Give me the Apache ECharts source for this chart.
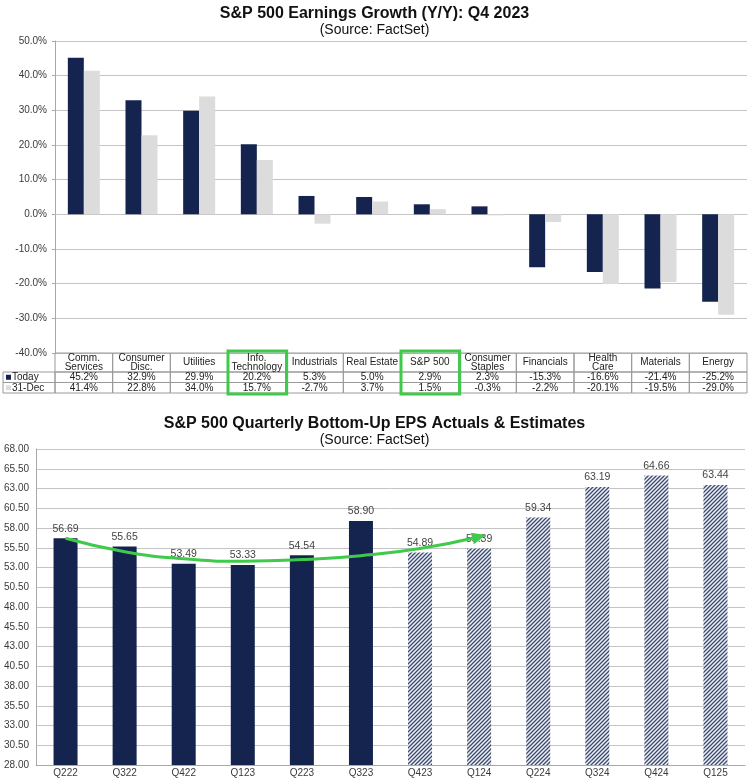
<!DOCTYPE html>
<html><head><meta charset="utf-8">
<script src="https://cdn.jsdelivr.net/npm/echarts@6/dist/echarts.min.js"></script>
<style>html,body{margin:0;padding:0;background:#fff}#c{width:749px;height:780px}</style>
</head><body><div id="c"></div>
<script>
// ---- Top chart data ----
const sectors = ['Comm.\nServices','Consumer\nDisc.','Utilities','Info.\nTechnology','Industrials','Real Estate','S&P 500','Consumer\nStaples','Financials','Health\nCare','Materials','Energy'];
const today = [45.2, 32.9, 29.9, 20.2, 5.3, 5.0, 2.9, 2.3, -15.3, -16.6, -21.4, -25.2];
const dec31 = [41.4, 22.8, 34.0, 15.7, -2.7, 3.7, 1.5, -0.3, -2.2, -20.1, -19.5, -29.0];
const highlighted = ['Info.\nTechnology', 'S&P 500'];
const growthTicks = [-40, 50, 10];
// ---- Bottom chart data ----
const quarters = ['Q222','Q322','Q422','Q123','Q223','Q323','Q423','Q124','Q224','Q324','Q424','Q125'];
const actuals = [56.69, 55.65, 53.49, 53.33, 54.54, 58.90, null, null, null, null, null, null];
const estimates = [null, null, null, null, null, null, 54.89, 55.39, 59.34, 63.19, 64.66, 63.44];
const trendCurve = [56.7, 55.0, 54.1, 53.8, 54.0, 54.5, 55.4, 56.9, null, null, null, null];
const epsTicks = [28, 68, 2.5];

const NAVY = '#15244f', LIGHT = '#dcdcdc', GREEN = '#3fca4c', GRID = '#c4c4c4', TXT = '#3a3a3a';
const FONT = 'Liberation Sans, Arial, sans-serif';
const base = epsTicks[0];

// hatch pattern for estimates
const pc = document.createElement('canvas');
pc.width = 4; pc.height = 4;
const g = pc.getContext('2d');
g.fillStyle = '#eef0f5'; g.fillRect(0,0,4,4);
g.strokeStyle = '#3d4b73'; g.lineWidth = 1.3;
g.beginPath(); g.moveTo(-1,1); g.lineTo(1,-1); g.moveTo(0,4); g.lineTo(4,0); g.moveTo(3,5); g.lineTo(5,3); g.stroke();

const chart = echarts.init(document.getElementById('c'), null, {renderer:'canvas'});

const tableRows = [0, 19, 29.5, 40];
function tableItem(params, api) {
  const i = api.value(0);
  const w = api.size([1, 0])[0];
  const cx = api.coord([i, 0])[0];
  const x0 = cx - w / 2;
  const ys = tableRows.map(r => api.coord([i, r])[1]);
  const ch = [];
  const stroke = {stroke: '#9a9a9a', fill: null, lineWidth: 1};
  for (let r = 0; r < 3; r++) {
    ch.push({type:'rect', shape:{x:x0, y:ys[r], width:w, height:ys[r+1]-ys[r]}, style:stroke});
  }
  const txt = (t, y) => ({type:'text', style:{text:t, x:cx, y:y, align:'center', verticalAlign:'middle', font:'10px ' + FONT, fill:'#222', lineHeight:9}});
  ch.push(txt(sectors[i], (ys[0]+ys[1])/2));
  ch.push(txt(today[i].toFixed(1) + '%', (ys[1]+ys[2])/2));
  ch.push(txt(dec31[i].toFixed(1) + '%', (ys[2]+ys[3])/2));
  if (i === 0) {
    const lx = x0 - 52;
    ch.push({type:'rect', shape:{x:lx, y:ys[1], width:52, height:ys[2]-ys[1]}, style:stroke});
    ch.push({type:'rect', shape:{x:lx, y:ys[2], width:52, height:ys[3]-ys[2]}, style:stroke});
    ch.push({type:'rect', shape:{x:lx+3, y:(ys[1]+ys[2])/2-2.5, width:5, height:5}, style:{fill:NAVY}});
    ch.push({type:'rect', shape:{x:lx+3, y:(ys[2]+ys[3])/2-2.5, width:5, height:5}, style:{fill:LIGHT}});
    ch.push({type:'text', style:{text:'Today', x:lx+9, y:(ys[1]+ys[2])/2, verticalAlign:'middle', font:'10px '+FONT, fill:'#222'}});
    ch.push({type:'text', style:{text:'31-Dec', x:lx+9, y:(ys[2]+ys[3])/2, verticalAlign:'middle', font:'10px '+FONT, fill:'#222'}});
  }
  return {type:'group', children: ch};
}
function boxItem(params, api) {
  const i = api.value(0);
  const w = api.size([1, 0])[0];
  const cx = api.coord([i, 0])[0];
  const y0 = api.coord([i, -2])[1], y1 = api.coord([i, 41])[1];
  return {type:'rect', shape:{x:cx - w/2, y:y0, width:w + 1, height:y1 - y0}, style:{stroke:GREEN, fill:null, lineWidth:3}};
}

const option = {
  animation: false,
  textStyle: {fontFamily: FONT},
  title: [
    {text:'S&P 500 Earnings Growth (Y/Y): Q4 2023', subtext:'(Source: FactSet)', left:'center', top:1, itemGap:1,
     textStyle:{fontSize:16, fontWeight:'bold', color:'#111', fontFamily:FONT, lineHeight:16}, subtextStyle:{fontSize:14, color:'#111', fontFamily:FONT, lineHeight:14}},
    {text:'S&P 500 Quarterly Bottom-Up EPS Actuals & Estimates', subtext:'(Source: FactSet)', left:'center', top:411, itemGap:1,
     textStyle:{fontSize:16, fontWeight:'bold', color:'#111', fontFamily:FONT, lineHeight:16}, subtextStyle:{fontSize:14, color:'#111', fontFamily:FONT, lineHeight:14}}
  ],
  grid: [
    {left:55, right:2, top:41, height:312},
    {left:55, right:2, top:353, height:40},
    {left:36, right:4, top:449, height:316}
  ],
  xAxis: [
    {gridIndex:0, type:'category', data:sectors, axisLabel:{show:false}, axisTick:{show:false}, axisLine:{lineStyle:{color:GRID}}},
    {gridIndex:1, type:'category', data:sectors, show:false},
    {gridIndex:2, type:'category', data:quarters, axisTick:{show:false}, axisLine:{lineStyle:{color:'#a8a8a8'}},
     axisLabel:{fontSize:10, color:TXT, margin:3}}
  ],
  yAxis: [
    {gridIndex:0, type:'value', min:growthTicks[0], max:growthTicks[1], interval:growthTicks[2],
     axisLine:{show:true, lineStyle:{color:'#a8a8a8'}}, axisTick:{show:true, length:3, lineStyle:{color:'#a8a8a8'}},
     splitLine:{lineStyle:{color:GRID}}, axisLabel:{fontSize:10, color:TXT, margin:8, formatter:v => v.toFixed(1) + '%'}},
    {gridIndex:1, type:'value', min:0, max:40, inverse:true, show:false},
    {gridIndex:2, type:'value', min:0, max:epsTicks[1]-base, interval:epsTicks[2],
     axisLine:{show:true, lineStyle:{color:'#a8a8a8'}}, axisTick:{show:false},
     splitLine:{lineStyle:{color:GRID}}, axisLabel:{fontSize:10, color:TXT, margin:7, formatter:v => (v + base).toFixed(2)}}
  ],
  series: [
    {type:'bar', name:'Today', xAxisIndex:0, yAxisIndex:0, data:today, barWidth:16, barGap:'0%', itemStyle:{color:NAVY}},
    {type:'bar', name:'31-Dec', xAxisIndex:0, yAxisIndex:0, data:dec31, barWidth:16, barGap:'0%', itemStyle:{color:LIGHT}},
    {type:'custom', xAxisIndex:1, yAxisIndex:1, renderItem:tableItem, clip:false, silent:true,
     data:sectors.map((s, i) => [i])},
    {type:'custom', xAxisIndex:1, yAxisIndex:1, renderItem:boxItem, clip:false, silent:true, z:10,
     data:highlighted.map(h => [sectors.indexOf(h)])},
    {type:'bar', name:'Actuals', xAxisIndex:2, yAxisIndex:2, barWidth:24, barGap:'-100%',
     data:actuals.map(v => v == null ? null : +(v - base).toFixed(2)), itemStyle:{color:NAVY},
     label:{show:true, position:'top', distance:4, fontSize:10.5, color:'#444', formatter:p => (p.value + base).toFixed(2)}},
    {type:'bar', name:'Estimates', xAxisIndex:2, yAxisIndex:2, barWidth:24, barGap:'-100%',
     data:estimates.map(v => v == null ? null : +(v - base).toFixed(2)), itemStyle:{color:{image:pc, repeat:'repeat'}},
     label:{show:true, position:'top', distance:4, fontSize:10.5, color:'#444', formatter:p => (p.value + base).toFixed(2)}},
    {type:'line', xAxisIndex:2, yAxisIndex:2, z:5, smooth:0.5, connectNulls:false,
     data:trendCurve.map((v, i) => {
       if (v == null) return null;
       const last = i === trendCurve.filter(x => x != null).length - 1;
       return last ? {value: +(v - base).toFixed(2), symbol:'triangle', symbolSize:[12, 14], symbolRotate:-75} : {value: +(v - base).toFixed(2), symbol:'none'};
     }),
     showSymbol:true, lineStyle:{color:GREEN, width:3}, itemStyle:{color:GREEN}}
  ]
};
chart.setOption(option);
</script></body></html>
